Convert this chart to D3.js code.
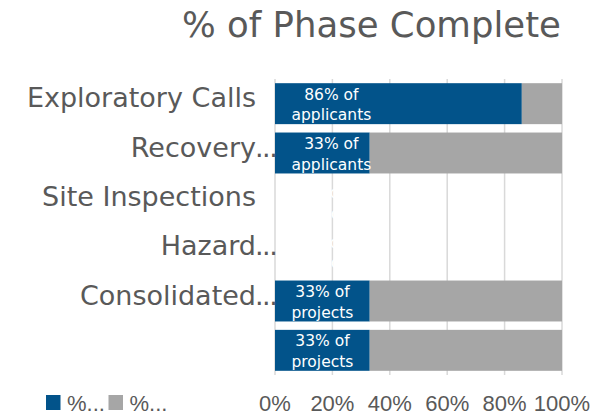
<!DOCTYPE html>
<html>
<head>
<meta charset="utf-8">
<script src="https://cdn.jsdelivr.net/npm/d3@7"></script>
<style>
  body { margin: 0; background: #fff; }
  svg { display: block; }
</style>
</head>
<body>
<script>
// data
const categories = ["Exploratory Calls", "Recovery Scoping Meetings", "Site Inspections", "Hazard Mitigation", "Consolidated Resource Center", ""];
const shownLabels = ["Exploratory Calls", "Recovery", "Site Inspections", "Hazard", "Consolidated", ""];
const truncated = [false, true, false, true, true, false];
const complete = [86, 33, 0, 0, 33, 33];
const remaining = [14, 67, 0, 0, 67, 67];
const barLabels = [
    ["86% of", "applicants"],
    ["33% of", "applicants"],
    ["0% of", "projects"],
    ["0% of", "projects"],
    ["33% of", "projects"],
    ["33% of", "projects"]
];
const seriesNames = ["%…", "%…"];
const ticks = [0, 20, 40, 60, 80, 100];

const width = 600, height = 416;
const margin = { top: 79, right: 38, bottom: 41, left: 275 };
const blue = "#02538a", grey = "#a6a6a6", textGrey = "#595959";

const svg = d3.select("body").append("svg")
    .attr("width", width)
    .attr("height", height);

const x = d3.scaleLinear().domain([0, 100]).range([margin.left, width - margin.right]);
const y = d3.scaleBand().domain(d3.range(categories.length))
    .range([margin.top, height - margin.bottom])
    .paddingInner(0.17).paddingOuter(0.085);

// title
svg.append("text")
    .attr("x", 371.5).attr("y", 37)
    .attr("text-anchor", "middle")
    .attr("font-family", "DejaVu Sans")
    .attr("font-size", 35.5)
    .attr("fill", textGrey)
    .text("% of Phase Complete");

// gridlines
svg.append("g").selectAll("line")
    .data(ticks)
    .enter().append("line")
    .attr("x1", d => x(d)).attr("x2", d => x(d))
    .attr("y1", margin.top).attr("y2", height - margin.bottom)
    .attr("stroke", "#d9d9d9")
    .attr("stroke-width", 1.5);

// stacked bars
const stack = d3.stack().keys(["complete", "remaining"]);
const rows = categories.map((c, i) => ({ complete: complete[i], remaining: remaining[i] }));
const layers = stack(rows);
const colors = [blue, grey];

svg.append("g").selectAll("g")
    .data(layers)
    .enter().append("g")
    .attr("fill", (d, i) => colors[i])
    .selectAll("rect")
    .data(d => d)
    .enter().append("rect")
    .attr("x", d => x(d[0]))
    .attr("y", (d, i) => y(i))
    .attr("width", d => x(d[1]) - x(d[0]))
    .attr("height", y.bandwidth());

// data labels (white, inside base)
const lab = svg.append("g")
    .attr("font-family", "DejaVu Sans")
    .attr("font-size", 15.5)
    .attr("fill", "#fff");

barLabels.forEach((lines, i) => {
    const cy = y(i) + y.bandwidth() / 2;
    const t = lab.append("text").attr("text-anchor", "middle");
    lines.forEach((s, k) => {
        t.append("tspan").attr("y", cy - 4 + k * 20.5).text(s);
    });
    const w = d3.max(t.selectAll("tspan").nodes(), n => n.getComputedTextLength());
    t.selectAll("tspan").attr("x", x(0) + 16.5 + w / 2);
});

// category labels
const cat = svg.append("g")
    .attr("font-family", "DejaVu Sans")
    .attr("font-size", 27)
    .attr("fill", textGrey);

shownLabels.forEach((s, i) => {
    const cy = y(i) + y.bandwidth() / 2 + 3.5;
    cat.append("text")
        .attr("x", 256).attr("y", cy)
        .attr("text-anchor", "end")
        .text(s);
    if (truncated[i]) {
        cat.append("text")
            .attr("x", 255).attr("y", cy)
            .attr("letter-spacing", -1.5)
            .text("...");
    }
});

// x axis labels
svg.append("g").selectAll("text")
    .data(ticks)
    .enter().append("text")
    .attr("x", d => x(d))
    .attr("y", 411)
    .attr("text-anchor", "middle")
    .attr("font-family", "Liberation Sans")
    .attr("font-size", 22)
    .attr("fill", textGrey)
    .text(d => d + "%");

// legend
const leg = svg.append("g");
const legX = [46, 108.5];
seriesNames.forEach((s, i) => {
    leg.append("rect")
        .attr("x", legX[i]).attr("y", 395)
        .attr("width", 14.5).attr("height", 15)
        .attr("fill", colors[i]);
    leg.append("text")
        .attr("x", legX[i] + 21).attr("y", 410.5)
        .attr("font-family", "Liberation Sans")
        .attr("font-size", 22)
        .attr("fill", textGrey)
        .text(s.replace("…", "..."));
});
</script>
</body>
</html>
